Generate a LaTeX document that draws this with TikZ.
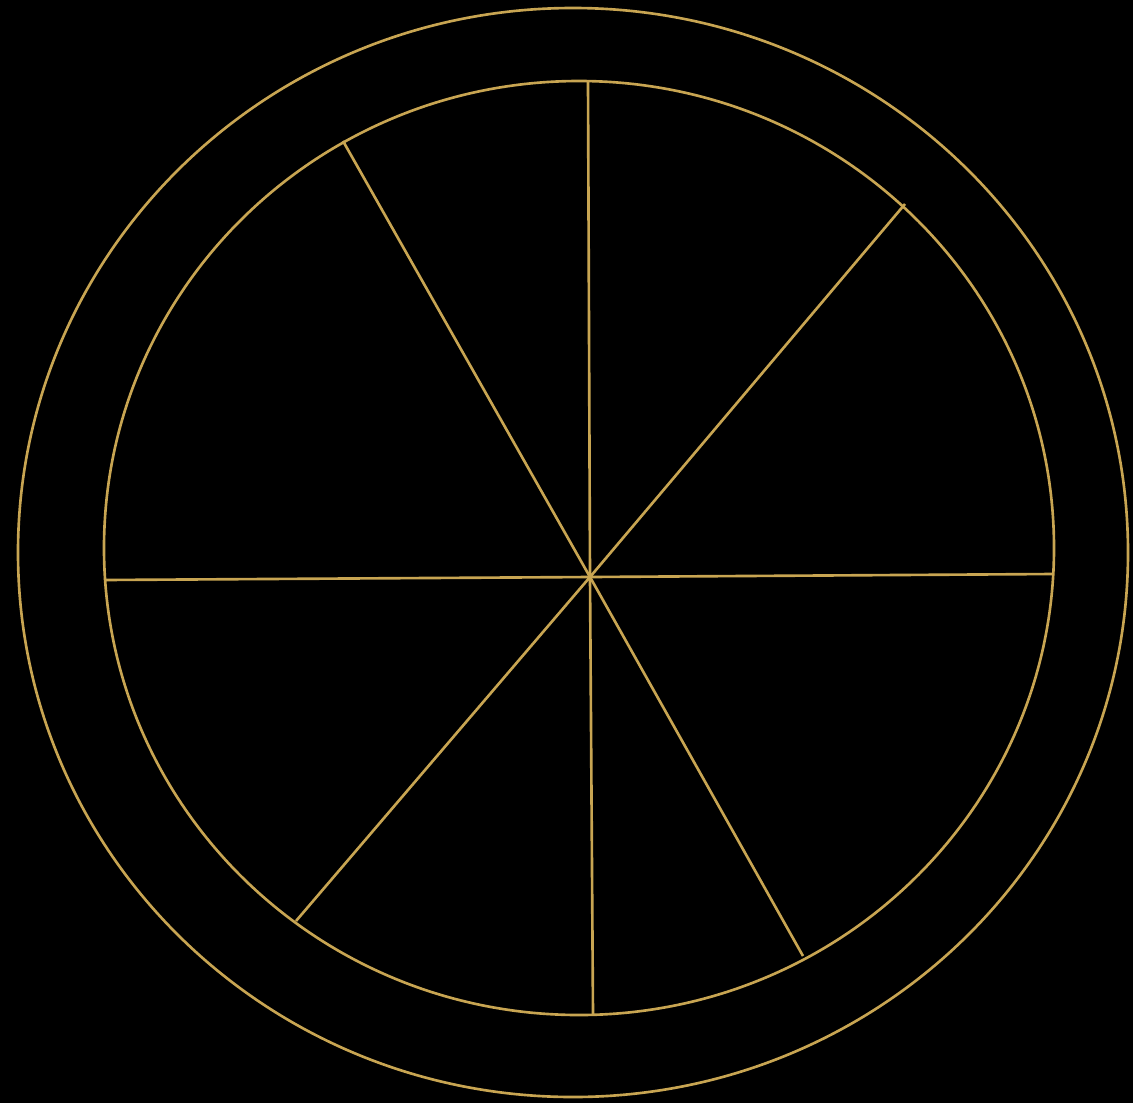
\documentclass[tikz,border=0pt]{standalone}
\usepackage{tikz}

\definecolor{gold}{RGB}{200,165,82}

\begin{document}
\begin{tikzpicture}[x=0.02cm,y=-0.02cm,line width=1.5pt]
  \fill[black] (0,0) rectangle (1133,1103);
  \useasboundingbox (0,0) rectangle (1133,1103);
  \draw[gold] (573,552.5) ellipse [x radius=555, y radius=544.5];
  \draw[gold] (579,548) ellipse [x radius=475, y radius=467];
  \coordinate (hub) at (590,577);
  \foreach \p in {(588,81),(905,204),(1053,574),(803,956),(593,1014),(296,921),(104,580),(343,141)}
    \draw[gold] (hub) -- \p;
\end{tikzpicture}
\end{document}
